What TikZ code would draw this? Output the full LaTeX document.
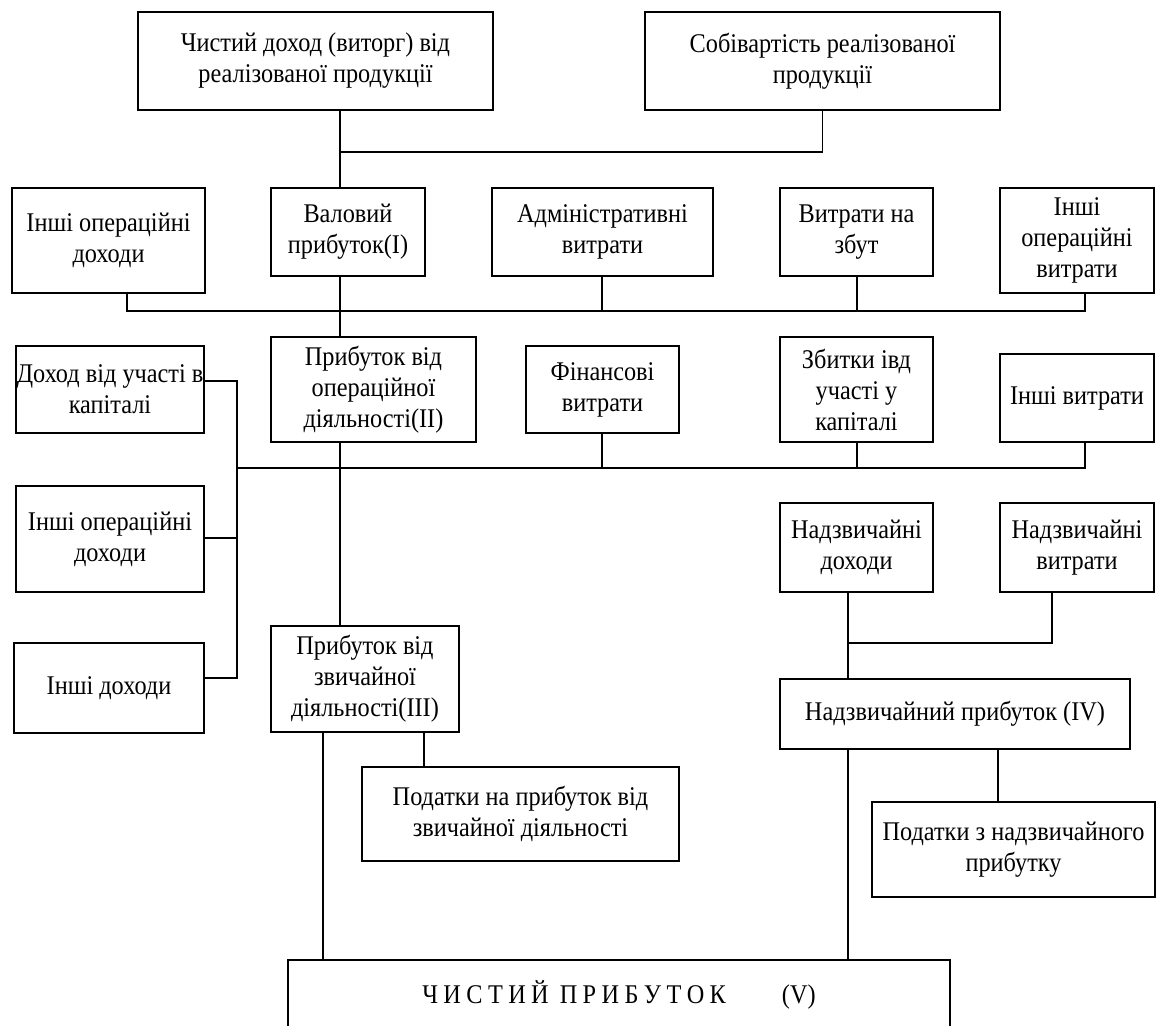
\documentclass[tikz,border=0pt]{standalone}
\usepackage{fontspec}
\setmainfont{Liberation Serif}[FakeStretch=0.9]
\newcommand\myls{\kern5.4pt}
\begin{document}
\begin{tikzpicture}[x=1pt,y=-1pt,
  box/.style={draw=black, line width=1.5pt, align=center, inner xsep=0pt, inner ysep=2pt,
    font=\fontsize{27}{31}\selectfont, text=black},
  conn/.style={draw=black, line width=1.5pt}]
\useasboundingbox (0,0) rectangle (1161,1025);
% top row
\node[box, minimum width=355pt, minimum height=98pt] (A) at (315.5,61) {Чистий доход (виторг) від\\реалізованої продукції};
\node[box, minimum width=355pt, minimum height=98pt] (B) at (822.5,61) {Собівартість реалізованої\\продукції};
% second row
\node[box, minimum width=193pt, minimum height=105pt] (C1) at (108.5,240.5) {Інші операційні\\доходи};
\node[box, minimum width=154pt, minimum height=88pt] (C2) at (348,232) {Валовий\\прибуток(I)};
\node[box, minimum width=221pt, minimum height=88pt] (C3) at (602.5,232) {Адміністративні\\витрати};
\node[box, minimum width=153pt, minimum height=88pt] (C4) at (856.5,232) {Витрати на\\збут};
\node[box, minimum width=154pt, minimum height=105pt] (C5) at (1077,240.5) {Інші\\операційні\\витрати};
% third row
\node[box, minimum width=188pt, minimum height=87pt] (D1) at (110,389.5) {Доход від участі в\\капіталі};
\node[box, minimum width=205pt, minimum height=105pt] (D2) at (373.5,389.5) {Прибуток від\\операційної\\діяльності(II)};
\node[box, minimum width=153pt, minimum height=87pt] (D3) at (602.5,389.5) {Фінансові\\витрати};
\node[box, minimum width=153pt, minimum height=105pt] (D4) at (856.5,389.5) {Збитки івд\\участі у\\капіталі};
\node[box, minimum width=154pt, minimum height=88pt] (D5) at (1077,398) {Інші витрати};
% left column
\node[box, minimum width=188pt, minimum height=106pt] (D6) at (110,539) {Інші операційні\\доходи};
\node[box, minimum width=190pt, minimum height=90pt] (D7) at (109,688) {Інші доходи};
% middle
\node[box, minimum width=188pt, minimum height=106pt] (E1) at (365,679) {Прибуток від\\звичайної\\діяльності(III)};
\node[box, minimum width=317pt, minimum height=94pt] (P1) at (520.5,814) {Податки на прибуток від\\звичайної діяльності};
% right
\node[box, minimum width=153pt, minimum height=89pt] (F1) at (856.5,547.5) {Надзвичайні\\доходи};
\node[box, minimum width=154pt, minimum height=89pt] (F2) at (1077,547.5) {Надзвичайні\\витрати};
\node[box, minimum width=350pt, minimum height=70pt] (G) at (955,714) {Надзвичайний прибуток (IV)};
\node[box, minimum width=283pt, minimum height=95pt] (H) at (1013.5,849.5) {Податки з надзвичайного\\прибутку};
% bottom
\node[box, minimum width=662pt, minimum height=70pt] (V) at (619,995) {Ч\myls И\myls С\myls Т\myls И\myls Й\kern11pt П\myls Р\myls И\myls Б\myls У\myls Т\myls О\myls К\kern56pt (V)};

% junction coordinates
\coordinate (t1) at (340,152);
\coordinate (t2) at (822.5,152);
\coordinate (b1) at (127,311);
\coordinate (b2) at (340,311);
\coordinate (b3) at (602,311);
\coordinate (b4) at (857,311);
\coordinate (b5) at (1085,311);
\coordinate (c0) at (237,468);
\coordinate (c2) at (340,468);
\coordinate (c3) at (602,468);
\coordinate (c4) at (857,468);
\coordinate (c5) at (1085,468);
\coordinate (l1) at (237,381);
\coordinate (l2) at (237,538);
\coordinate (l3) at (237,678);
\coordinate (v1) at (323,900);
\coordinate (v2) at (424,750);
\coordinate (f1) at (848,643);
\coordinate (f2) at (1052,643);
\coordinate (g2) at (998,780);

% connectors
\draw[conn] (t1 |- A.south) -- (t1) -- (t2) -- (B.south);
\draw[conn] (t1) -- (t1 |- C2.north);
\draw[conn] (b1 |- C1.south) -- (b1) -- (b5) -- (b5 |- C5.south);
\draw[conn] (b3) -- (b3 |- C3.south);
\draw[conn] (b4) -- (b4 |- C4.south);
\draw[conn] (b2 |- C2.south) -- (b2 |- D2.north);
\draw[conn] (c0) -- (c5) -- (c5 |- D5.south);
\draw[conn] (c3) -- (c3 |- D3.south);
\draw[conn] (c4) -- (c4 |- D4.south);
\draw[conn] (D1.east |- l1) -- (l1) -- (l3) -- (D7.east |- l3);
\draw[conn] (D6.east |- l2) -- (l2);
\draw[conn] (c2 |- D2.south) -- (c2 |- E1.north);
\draw[conn] (v1 |- E1.south) -- (v1 |- V.north);
\draw[conn] (v2 |- E1.south) -- (v2 |- P1.north);
\draw[conn] (f1 |- F1.south) -- (f1 |- G.north);
\draw[conn] (f2 |- F2.south) -- (f2) -- (f1);
\draw[conn] (f1 |- G.south) -- (f1 |- V.north);
\draw[conn] (g2 |- G.south) -- (g2 |- H.north);
\end{tikzpicture}
\end{document}
